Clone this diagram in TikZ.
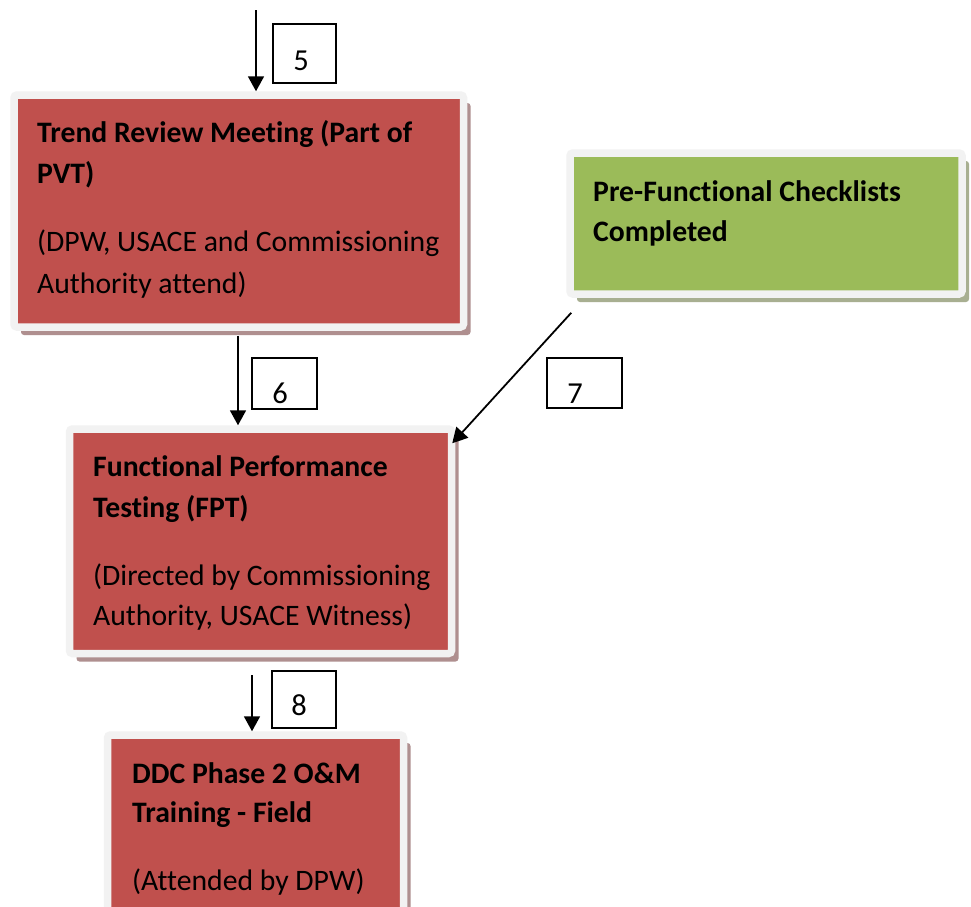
\documentclass[tikz,border=0pt]{standalone}
\usepackage{fontspec}
\setmainfont{Carlito}[Ligatures=NoCommon]
\usetikzlibrary{arrows.meta,shadows,calc}
\definecolor{boxred}{HTML}{C0504D}
\definecolor{boxgreen}{HTML}{9BBB59}
\definecolor{framegray}{HTML}{F2F2F2}
\definecolor{shadowred}{HTML}{AF8F8F}
\definecolor{shadowgreen}{HTML}{A8AF91}
\begin{document}
\begin{tikzpicture}[x=1pt,y=-1pt,
  card/.style={draw=framegray, line width=7.5pt, rounded corners=3pt, inner sep=0pt},
  redcard/.style={card, fill=boxred, drop shadow={shadow xshift=7pt, shadow yshift=-8pt, fill=shadowred, opacity=1}},
  greencard/.style={card, fill=boxgreen, drop shadow={shadow xshift=7pt, shadow yshift=-8pt, fill=shadowgreen, opacity=1}},
  txt/.style={anchor=base west, inner sep=0pt, font=\fontsize{29.7}{35}\selectfont},
  ttl/.style={anchor=base west, inner sep=0pt, font=\bfseries\fontsize{29.7}{35}\selectfont},
  lbl/.style={draw=black, line width=1.3pt, inner sep=0pt, fill=white},
  num/.style={anchor=base, inner sep=0pt, font=\fontsize{30.5}{36}\selectfont},
  arr/.style={line width=1.8pt, -{Triangle[length=15pt,width=16pt]}}]
\useasboundingbox (0,0) rectangle (971,906);
\clip (0,0) rectangle (971,906);
\fill[white] (0,0) rectangle (971,906);

% boxes
\node[redcard, minimum width=449.5pt, minimum height=232pt] (b1) at (238.75,211) {};
\node[greencard, minimum width=392pt, minimum height=141pt] (b2) at (766,223.5) {};
\node[redcard, minimum width=382pt, minimum height=224.5pt] (b3) at (260.5,541.25) {};
\node[redcard, minimum width=296pt, minimum height=215pt] (b4) at (255.5,842.5) {};

% texts
\node[ttl] (t1a) at (37,142) {Trend Review Meeting (Part of};
\node[ttl] (t1b) at (37,183) {PVT)};
\node[txt] (t1c) at (37,251) {(DPW, USACE and Commissioning};
\node[txt] (t1d) at (37,293) {Authority attend)};

\node[ttl] (t2a) at (593,201) {Pre-Functional Checklists};
\node[ttl] (t2b) at (593,241) {Completed};

\node[ttl] (t3a) at (93,476) {Functional Performance};
\node[ttl] (t3b) at (93,517) {Testing (FPT)};
\node[txt] (t3c) at (93,585) {(Directed by Commissioning};
\node[txt] (t3d) at (93,625) {Authority, USACE Witness)};

\node[ttl] (t4a) at (132,783) {DDC Phase 2 O\&M};
\node[ttl] (t4b) at (132,822) {Training - Field};
\node[txt] (t4c) at (132,890) {(Attended by DPW)};

% connectors
\coordinate (s5) at (256,10);
\coordinate (x6) at (238,0);
\coordinate (s8) at (252,675);
\draw[arr] (s5) -- (s5 |- b1.north);
\draw[arr] ([yshift=-5pt]x6 |- b1.south) -- (x6 |- b3.north);
\draw[arr] ($(b2.south west)+(5,15)$) -- ($(b3.north east)+(-3,18)$);
\draw[arr] (s8) -- (s8 |- b4.north);

% labels
\node[lbl, minimum width=63pt, minimum height=59pt] (l5) at (304.5,53.5) {};
\node[lbl, minimum width=65pt, minimum height=51pt] (l6) at (284.5,383.5) {};
\node[lbl, minimum width=75pt, minimum height=50pt] (l7) at (584.5,383) {};
\node[lbl, minimum width=64pt, minimum height=57pt] (l8) at (304,699.5) {};
\node[num] (n5) at (301,70) {5};
\node[num] (n6) at (280,403) {6};
\node[num] (n7) at (575,403) {7};
\node[num] (n8) at (299,715) {8};
\end{tikzpicture}
\end{document}
